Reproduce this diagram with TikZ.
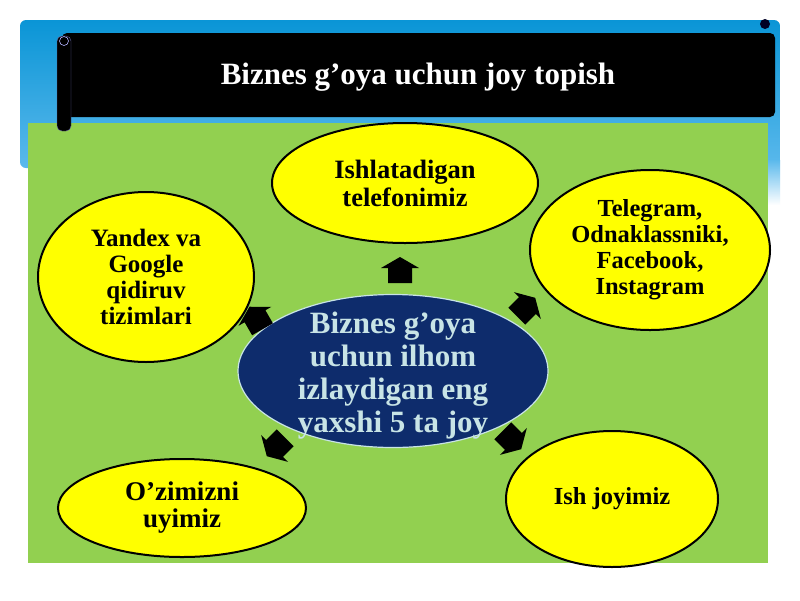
\documentclass[tikz,border=0pt]{standalone}
\usepackage{fontspec}
\setmainfont{Liberation Serif}
\usetikzlibrary{shapes.geometric}
\definecolor{skyA}{HTML}{0A95D6}
\definecolor{skyB}{HTML}{5BB9EC}
\definecolor{grassG}{HTML}{92D050}
\definecolor{yel}{HTML}{FFFF00}
\definecolor{navy}{HTML}{0E2C6C}
\definecolor{paleT}{HTML}{C8E4E6}
\tikzset{
  bubble/.style={ellipse,draw=black,line width=2pt,fill=yel,inner sep=0pt,
     font=\bfseries\fontsize{24.5}{26}\selectfont,align=center,text=black},
  blockarrow/.style={fill=black},
}
\newcommand{\blockarr}[2]{%
  \fill[blockarrow,shift={#1},rotate=#2] (-13,-12) -- (2,-12) -- (2,-19) -- (13,0) -- (2,19) -- (2,12) -- (-13,12) -- cycle;}
\begin{document}
\begin{tikzpicture}[x=1pt,y=-1pt]
\useasboundingbox (0,0) rectangle (800,600);
\fill[white] (0,0) rectangle (800,600);
% blue header backdrop
\shade[top color=skyA,bottom color=skyB,rounded corners=6pt] (20,20) rectangle (780,168);
\shade[top color=skyB,bottom color=white] (768,160) rectangle (780,205);
% green field
\fill[grassG] (28,123) rectangle (768,563);
% black banner
\fill[black,rounded corners=5pt] (62,33) -- (775,33) -- (775,117) -- (62,117) -- cycle;
\fill[black!85!blue] (765,24) circle (5);
% scroll roll
\fill[black,rounded corners=5pt,draw=black!60!blue!60!white,line width=0.4pt] (57,36) rectangle (71,131);
\draw[white!70!blue,line width=0.6pt] (64,41) circle (4.5);
\node[text=white,font=\bfseries\fontsize{31}{34}\selectfont] (title) at (418,77) {Biznes g’oya uchun joy topish};
% center
\node[ellipse,draw=paleT,line width=1.2pt,fill=navy,minimum width=310pt,minimum height=153pt,inner sep=0pt] (c) at (393,371) {};
\node[text=paleT,font=\bfseries\fontsize{31}{33}\selectfont,align=center] (ct) at (393,376)
      {Biznes g’oya\\uchun ilhom\\izlaydigan eng\\yaxshi 5 ta joy};
% satellites
\node[bubble,minimum width=266pt,minimum height=120pt,font=\bfseries\fontsize{26.5}{28}\selectfont] (t) at (405,183) {Ishlatadigan\\telefonimiz};
\node[bubble,minimum width=240pt,minimum height=160pt] (tr) at (650,250) {Telegram,\\Odnaklassniki,\\Facebook,\\Instagram};
\node[bubble,minimum width=216pt,minimum height=170pt,font=\bfseries\fontsize{25}{26}\selectfont] (l) at (146,277) {Yandex va\\Google\\qidiruv\\tizimlari};
\node[bubble,minimum width=248pt,minimum height=98pt,font=\bfseries\fontsize{27}{27}\selectfont] (bl) at (182,508) {O’zimizni\\uyimiz};
\node[bubble,minimum width=212pt,minimum height=136pt] (br) at (612,499) {Ish joyimiz};
% arrows
\blockarr{(400,270)}{90}
\blockarr{(526,307)}{45}
\blockarr{(256,318)}{120}
\blockarr{(276,447)}{225}
\blockarr{(512,440)}{-45}
\end{tikzpicture}
\end{document}
